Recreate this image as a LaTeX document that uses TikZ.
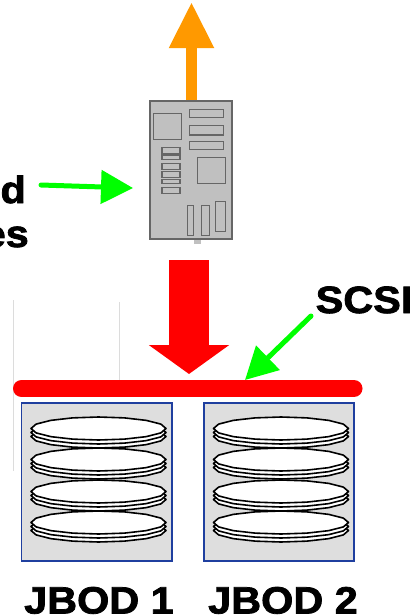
\documentclass[tikz,border=0pt]{standalone}
\usepackage{fontspec}
\setmainfont[BoldFeatures={FakeBold=2,FakeStretch=1.09}]{Liberation Sans}
\usetikzlibrary{arrows.meta}
\definecolor{boardgray}{HTML}{C0C0C0}
\definecolor{boardline}{HTML}{666666}
\definecolor{jbodfill}{HTML}{DEDEDE}
\definecolor{jbodline}{HTML}{1F3F9F}
\definecolor{orangearrow}{HTML}{FF9900}
\definecolor{pureg}{HTML}{00FF00}
\definecolor{faint}{HTML}{DCDCDC}
\tikzset{
  lbl/.style={font=\fontsize{38}{38}\selectfont\bfseries,inner sep=0pt,text=black},
  boardbox/.style={draw=boardline,fill=boardgray,line width=1.9pt,inner sep=0pt},
  chip/.style={draw=boardline,fill=boardgray,line width=1.9pt},
  jbodbox/.style={draw=jbodline,fill=jbodfill,line width=1.6pt,inner sep=0pt,minimum width=150.5pt,minimum height=158pt},
  plate/.style={draw=black,fill=white,line width=1.6pt,line join=round},
  guide/.style={draw=faint,line width=1pt}
}
\newcommand{\diskplate}[3]{%
  \path[plate] plot[samples=17,domain=0:360]
    ({#1+67.5*cos(\x)},{#2+11.5*sin(\x)+#3+0.5*sin(8*\x)}) -- cycle;}
\begin{document}
\begin{tikzpicture}[x=1pt,y=-1pt]
\useasboundingbox (0,0) rectangle (416,616);
\clip (0,0) rectangle (416,616);
% faint guides
\coordinate (g1a) at (13,300); \coordinate (g1b) at (13,471);
\coordinate (g2a) at (119,302); \coordinate (g2b) at (119,380);
\draw[guide] (g1a) -- (g1b);
\draw[guide] (g2a) -- (g2b);
% board
\fill[boardgray] (193.5,235) rectangle (200.5,243.5);
\node[boardbox,minimum width=82pt,minimum height=138pt] (board) at (191,170) {};
\draw[chip] (153.5,113.5) rectangle (181.5,139.5);
\draw[chip] (189.5,109.5) rectangle (223.5,117.5);
\draw[chip] (189.5,125.5) rectangle (223.5,135);
\draw[chip] (189.5,141.5) rectangle (223.5,149.5);
\draw[chip] (197.5,157.5) rectangle (225.5,183.5);
\draw[chip] (162,147.5) rectangle (180,153.5);
\draw[chip] (162,155) rectangle (180,159.5);
\draw[chip] (162,163.5) rectangle (180,169.5);
\draw[chip] (162,171.5) rectangle (180,177.5);
\draw[chip] (162,179.5) rectangle (180,183.5);
\draw[chip] (162,187.5) rectangle (180,193.5);
\draw[chip] (187.5,205.5) rectangle (193.5,235.5);
\draw[chip] (201.5,205.5) rectangle (209.5,235.5);
\draw[chip] (215.5,201.5) rectangle (225.5,231.5);
% orange arrow
\coordinate (orangetip) at (191.5,2);
\draw[orangearrow,line width=11pt,-{Triangle[length=46pt,width=42pt]}] (board.north -| orangetip) -- (orangetip);
% red arrow
\coordinate (redstart) at (189,260);
\coordinate (redtip) at (189,374);
\draw[red,line width=40pt,-{Triangle[length=29pt,width=79pt]}] (redstart) -- (redtip);
% bus
\coordinate (busl) at (21.5,388.5);
\coordinate (busr) at (354,388.5);
\draw[red,line width=17pt,line cap=round] (busl) -- (busr);
% JBODs
\node[jbodbox] (j1) at (96.75,482) {};
\node[jbodbox] (j2) at (279,482) {};
\foreach \cx in {98.5,281}{
  \foreach \cy in {511,480,448,417}{
    \foreach \off in {19.5,15.5,11.5}{
      \diskplate{\cx}{\cy}{\off}
    }
  }
}
% labels
\node[lbl,anchor=base east] (ltop) at (26,203) {d};
\node[lbl,anchor=base east] (lbot) at (29,247) {es};
\node[lbl,anchor=base west] (scsi) at (315.5,313) {SCSI};
\node[lbl,anchor=base] (l1) at (99,613.5) {JBOD 1};
\node[lbl,anchor=base] (l2) at (283,613.5) {JBOD 2};
% green arrows
\coordinate (g1s) at (41,185);
\coordinate (g1t) at (133,188);
\draw[pureg,line width=5pt,line cap=round,-{Triangle[length=32pt,width=33pt]}] (g1s) -- (g1t);
\coordinate (g2s) at (311,316);
\coordinate (g2t) at (245,380);
\draw[pureg,line width=5pt,line cap=round,-{Triangle[length=32pt,width=33pt]}] (g2s) -- (g2t);
\end{tikzpicture}
\end{document}
